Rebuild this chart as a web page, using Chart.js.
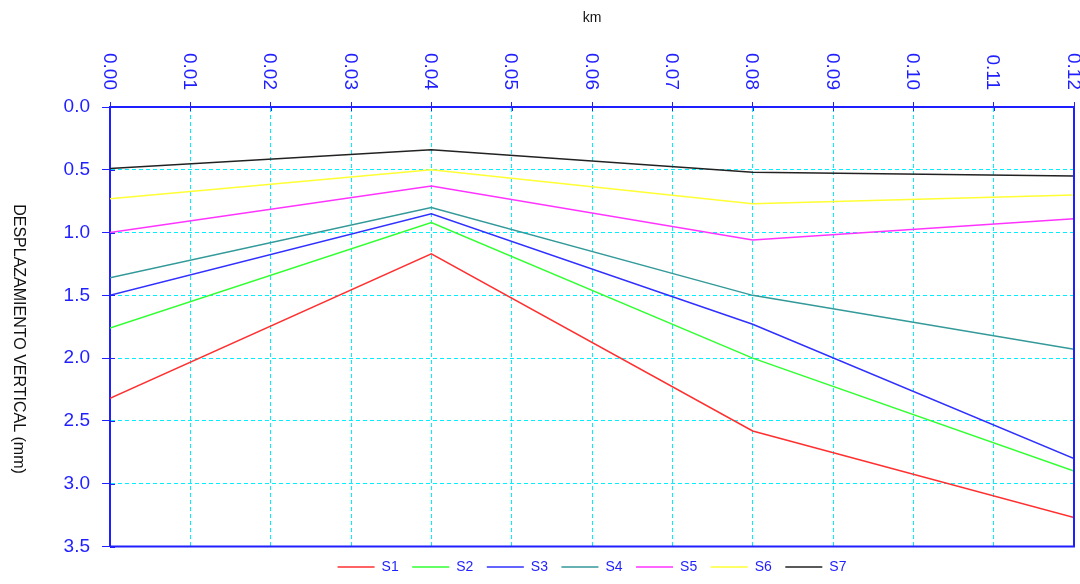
<!DOCTYPE html>
<html>
<head>
<meta charset="utf-8">
<script src="https://cdn.jsdelivr.net/npm/chart.js@4/dist/chart.umd.min.js"></script>
<style>
  html, body { margin: 0; padding: 0; background: #ffffff; }
  #wrap { width: 1080px; height: 584px; }
</style>
</head>
<body>
<div id="wrap"><canvas id="c" width="1080" height="584"></canvas></div>
<script>
// Survey stations along the profile (km)
const kmPositions = [0.00, 0.04, 0.08, 0.12];

// Vertical displacement per survey (mm)
const s1 = [2.32, 1.17, 2.58, 3.27];
const s2 = [1.76, 0.92, 2.00, 2.90];
const s3 = [1.50, 0.85, 1.73, 2.80];
const s4 = [1.36, 0.80, 1.50, 1.93];
const s5 = [1.00, 0.63, 1.06, 0.89];
const s6 = [0.73, 0.50, 0.77, 0.70];
const s7 = [0.49, 0.34, 0.52, 0.55];

const seriesNames = ['S1', 'S2', 'S3', 'S4', 'S5', 'S6', 'S7'];
const seriesValues = [s1, s2, s3, s4, s5, s6, s7];
const seriesColors = ['#ff3030', '#30ff30', '#3030ff', '#339999', '#ff33ff', '#ffff33', '#222222'];

// Axis ticks
const kmTicks = [0.00, 0.01, 0.02, 0.03, 0.04, 0.05, 0.06, 0.07, 0.08, 0.09, 0.10, 0.11, 0.12];
const kmTickLabels = ['0.00', '0.01', '0.02', '0.03', '0.04', '0.05', '0.06', '0.07', '0.08', '0.09', '0.10', '0.11', '0.12'];
const depthTicks = [0.0, 0.5, 1.0, 1.5, 2.0, 2.5, 3.0, 3.5];
const depthTickLabels = ['0.0', '0.5', '1.0', '1.5', '2.0', '2.5', '3.0', '3.5'];

const xTitle = 'km';
const yTitle = 'DESPLAZAMIENTO VERTICAL (mm)';

const AXIS_BLUE = '#1f1fff';
const GRID_CYAN = '#00f0ff';
const FONT = '"Liberation Sans", Arial, sans-serif';

const datasets = seriesNames.map((name, i) => ({
  label: name,
  data: kmPositions.map((x, j) => ({ x: x, y: seriesValues[i][j] })),
  borderColor: seriesColors[i],
  backgroundColor: seriesColors[i],
  borderWidth: 1.5,
  pointRadius: 0,
  pointHoverRadius: 0,
  tension: 0,
  fill: false
}));

// Extra drawing: rotated top tick labels, rotated y title, plot frame, inner tick marks
const decorations = {
  id: 'decorations',
  afterDraw(chart) {
    const { ctx, chartArea, scales } = chart;
    const xs = scales.x, ys = scales.y;
    ctx.save();

    // frame on the right and bottom
    ctx.strokeStyle = AXIS_BLUE;
    ctx.lineWidth = 2;
    ctx.beginPath();
    ctx.moveTo(chartArea.right, chartArea.top);
    ctx.lineTo(chartArea.right, chartArea.bottom);
    ctx.lineTo(chartArea.left, chartArea.bottom);
    ctx.stroke();

    // inner part of the tick marks
    ctx.lineWidth = 1;
    ctx.beginPath();
    kmTicks.forEach(v => {
      const px = Math.round(xs.getPixelForValue(v)) + 0.5;
      ctx.moveTo(px, chartArea.top);
      ctx.lineTo(px, chartArea.top + 4);
    });
    depthTicks.forEach(v => {
      const py = Math.round(ys.getPixelForValue(v)) + 0.5;
      ctx.moveTo(chartArea.left, py);
      ctx.lineTo(chartArea.left + 5, py);
    });
    ctx.stroke();

    // top tick labels, rotated clockwise
    ctx.fillStyle = AXIS_BLUE;
    ctx.font = '19px ' + FONT;
    ctx.textAlign = 'right';
    ctx.textBaseline = 'middle';
    kmTicks.forEach((v, i) => {
      const px = xs.getPixelForValue(v);
      ctx.save();
      ctx.translate(px - 1, 90);
      ctx.rotate(Math.PI / 2);
      ctx.fillText(kmTickLabels[i], 0, 0);
      ctx.restore();
    });

    // y axis title, rotated clockwise
    ctx.fillStyle = '#111111';
    ctx.font = '16px ' + FONT;
    ctx.textAlign = 'center';
    ctx.textBaseline = 'middle';
    ctx.translate(18, 339);
    ctx.rotate(Math.PI / 2);
    ctx.fillText(yTitle, 0, 0);
    ctx.restore();
  }
};

new Chart(document.getElementById('c'), {
  type: 'line',
  data: { datasets: datasets },
  options: {
    responsive: false,
    animation: false,
    devicePixelRatio: 1,
    layout: { padding: { left: 0, right: 6, top: 0, bottom: 0 } },
    plugins: {
      tooltip: { enabled: false },
      legend: {
        position: 'bottom',
        fullSize: false,
        labels: {
          usePointStyle: true,
          pointStyle: 'line',
          pointStyleWidth: 37,
          color: AXIS_BLUE,
          font: { family: FONT, size: 14 },
          padding: 13.5
        }
      }
    },
    scales: {
      x: {
        type: 'linear',
        position: 'top',
        min: 0,
        max: 0.12,
        afterBuildTicks: (scale) => { scale.ticks = kmTicks.map(v => ({ value: v })); },
        afterFit: (scale) => { scale.height = 107; },
        ticks: { display: false },
        grid: {
          color: GRID_CYAN,
          lineWidth: 1,
          tickColor: AXIS_BLUE,
          tickLength: 5,
          drawTicks: true
        },
        border: { color: AXIS_BLUE, width: 2, dash: [4, 3] },
        title: {
          display: true,
          text: xTitle,
          color: '#111111',
          font: { family: FONT, size: 14 },
          padding: { top: 10, bottom: 0 }
        }
      },
      y: {
        type: 'linear',
        reverse: true,
        min: 0,
        max: 3.5,
        afterBuildTicks: (scale) => { scale.ticks = depthTicks.map(v => ({ value: v })); },
        afterFit: (scale) => { scale.width = 110; },
        ticks: {
          color: AXIS_BLUE,
          font: { family: FONT, size: 19 },
          padding: 12,
          callback: (v) => depthTickLabels[depthTicks.indexOf(v)] ?? v.toFixed(1)
        },
        grid: {
          color: GRID_CYAN,
          lineWidth: 1,
          tickColor: AXIS_BLUE,
          tickLength: 8
        },
        border: { color: AXIS_BLUE, width: 2, dash: [4, 3] }
      }
    }
  },
  plugins: [decorations]
});
</script>
</body>
</html>
